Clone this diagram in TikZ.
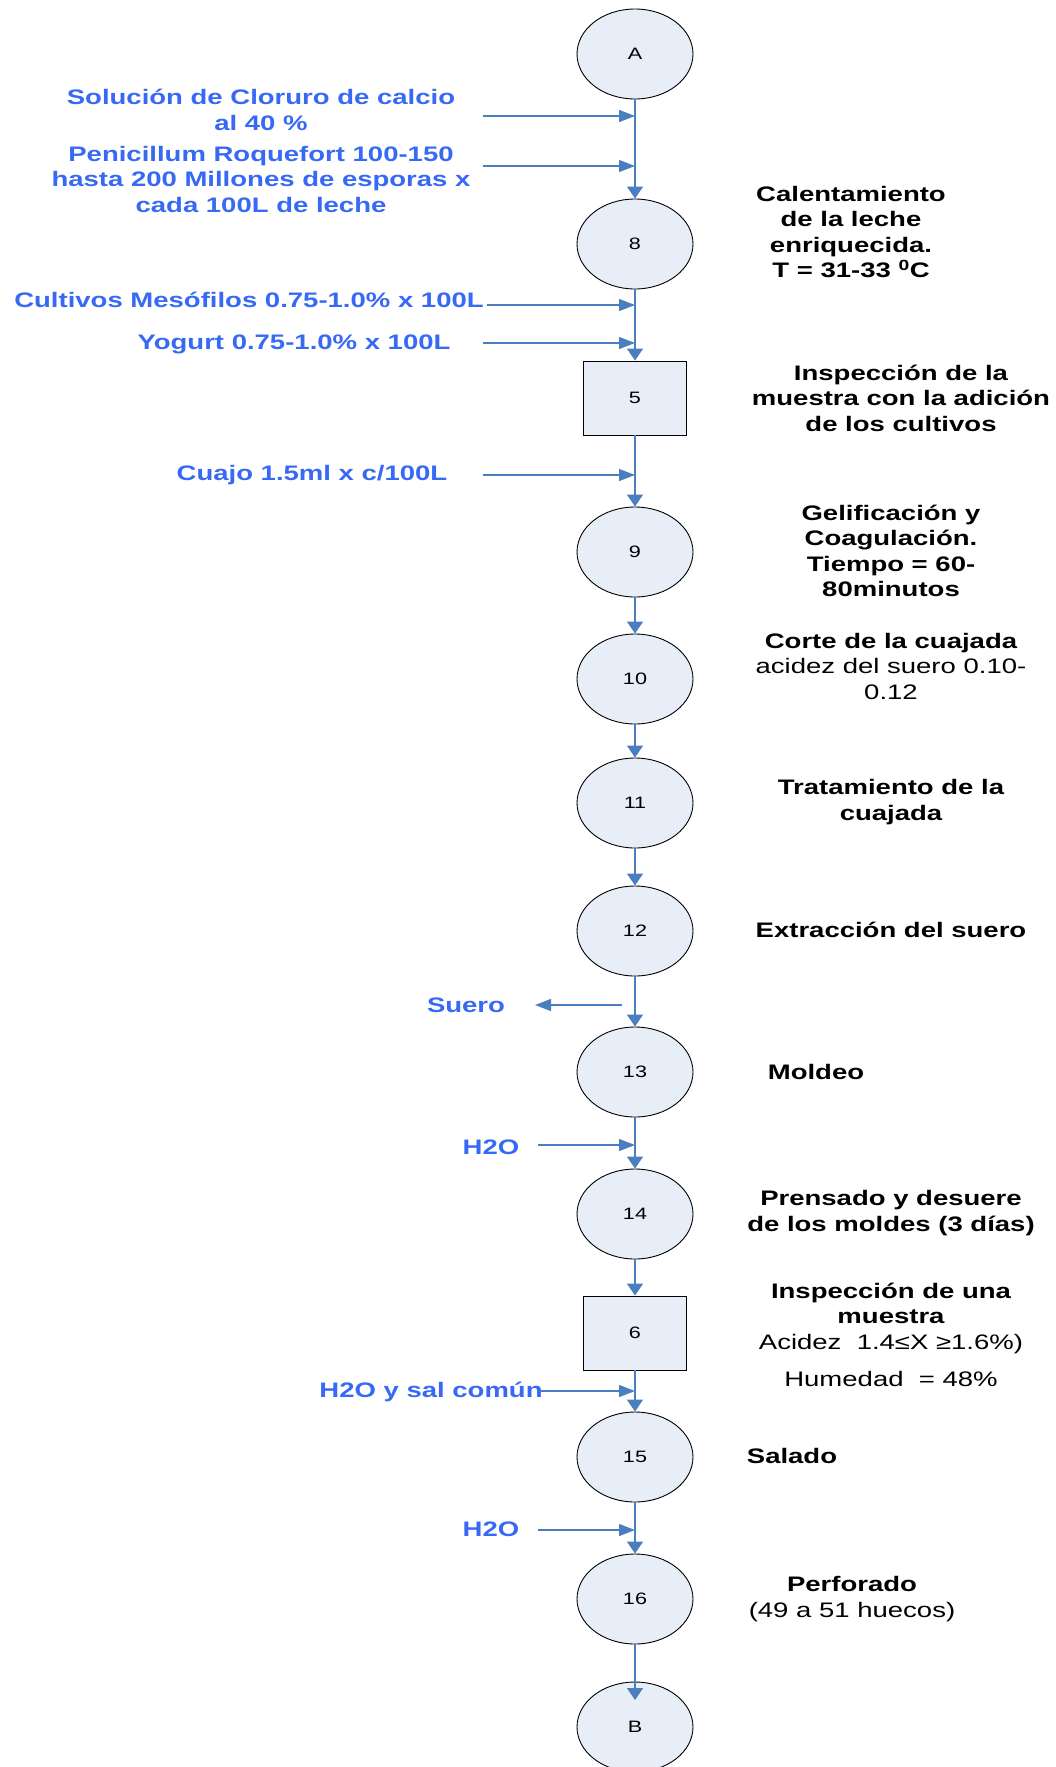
\documentclass[tikz,border=0pt]{standalone}
\usepackage{fontspec}
\setmainfont{Liberation Sans}[FakeStretch=1.31]
\usetikzlibrary{arrows.meta,shapes.geometric}
\definecolor{flowline}{RGB}{74,126,190}
\definecolor{inblue}{RGB}{55,105,245}
\definecolor{opfill}{RGB}{232,238,248}
\tikzset{
  op/.style={ellipse, draw=black, line width=0.9pt, fill=opfill,
    minimum width=116pt, minimum height=90pt, inner sep=0pt,
    font=\fontsize{16.5}{19}\selectfont},
  inspbox/.style={rectangle, draw=black, line width=0.9pt, fill=opfill,
    minimum width=103pt, minimum height=74pt, inner sep=0pt,
    font=\fontsize{16.5}{19}\selectfont},
  flow/.style={draw=flowline, line width=1.3pt, -{Triangle[length=12pt,width=16pt]}},
  feed/.style={draw=flowline, line width=1.3pt, -{Triangle[length=16pt,width=12pt]}},
  inlabel/.style={text=inblue, font=\fontsize{21}{25.5}\selectfont\bfseries,
    align=center, inner sep=0pt},
  steplabel/.style={text=black, font=\fontsize{21}{25.5}\selectfont\bfseries,
    align=center, inner sep=0pt},
}
\begin{document}
\begin{tikzpicture}[x=1pt, y=-1pt]
\useasboundingbox (0,0) rectangle (1056,1767);

% process chain
\node[op]      (A)   at (635,54)   {A};
\node[op]      (n8)  at (635,244)  {8};
\node[inspbox] (n5)  at (635,398)  {5};
\node[op]      (n9)  at (635,552)  {9};
\node[op]      (n10) at (635,679)  {10};
\node[op]      (n11) at (635,803)  {11};
\node[op]      (n12) at (635,931)  {12};
\node[op]      (n13) at (635,1072) {13};
\node[op]      (n14) at (635,1214) {14};
\node[inspbox] (n6)  at (635,1333) {6};
\node[op]      (n15) at (635,1457) {15};
\node[op]      (n16) at (635,1599) {16};
\node[op]      (B)   at (635,1727) {B};
\coordinate (Bin) at (635,1700);

\draw[flow] (A) -- (n8);
\draw[flow] (n8) -- (n5);
\draw[flow] (n5) -- (n9);
\draw[flow] (n9) -- (n10);
\draw[flow] (n10) -- (n11);
\draw[flow] (n11) -- (n12);
\draw[flow] (n12) -- (n13);
\draw[flow] (n13) -- (n14);
\draw[flow] (n14) -- (n6);
\draw[flow] (n6) -- (n15);
\draw[flow] (n15) -- (n16);
\draw[flow] (n16.south) -- (Bin);

% materials added or removed
\node[inlabel] (sol)  at (261,110)  {Solución de Cloruro de calcio\\al 40 \%};
\node[inlabel] (pen)  at (261,179)  {Penicillum Roquefort 100-150\\hasta 200 Millones de esporas x\\cada 100L de leche};
\node[inlabel] (cul)  at (249,300)  {Cultivos Mesófilos 0.75-1.0\% x 100L};
\node[inlabel] (yog)  at (294,344)  {Yogurt 0.75-1.0\% x 100L};
\node[inlabel] (cuajo) at (312,475) {Cuajo 1.5ml x c/100L};
\node[inlabel] (suero) at (466,1005) {Suero};
\node[inlabel] (agua1) at (491,1147) {H2O};
\node[inlabel] (sal)   at (431,1392) {H2O y sal común};
\node[inlabel] (agua2) at (491,1529) {H2O};

\coordinate (solS) at (483,116);  \coordinate (solE) at (635,116);
\coordinate (penS) at (483,166);  \coordinate (penE) at (635,166);
\coordinate (culS) at (487,305);  \coordinate (culE) at (635,305);
\coordinate (yogS) at (483,343);  \coordinate (yogE) at (635,343);
\coordinate (cuaS) at (483,475);  \coordinate (cuaE) at (635,475);
\coordinate (sueS) at (622,1005); \coordinate (sueE) at (535,1005);
\coordinate (ag1S) at (538,1145); \coordinate (ag1E) at (635,1145);
\coordinate (salS) at (541,1391); \coordinate (salE) at (635,1391);
\coordinate (ag2S) at (538,1530); \coordinate (ag2E) at (635,1530);

\draw[feed] (solS) -- (solE);
\draw[feed] (penS) -- (penE);
\draw[feed] (culS) -- (culE);
\draw[feed] (yogS) -- (yogE);
\draw[feed] (cuaS) -- (cuaE);
\draw[feed] (sueS) -- (sueE);
\draw[feed] (ag1S) -- (ag1E);
\draw[feed] (salS) -- (salE);
\draw[feed] (ag2S) -- (ag2E);

% operation descriptions
\node[steplabel] (t8)  at (851,232)  {Calentamiento\\de la leche\\enriquecida.\\T = 31-33 \textsuperscript{0}C};
\node[steplabel] (t5)  at (901,398)  {Inspección de la\\muestra con la adición\\de los cultivos};
\node[steplabel] (t9)  at (891,551)  {Gelificación y\\Coagulación.\\Tiempo = 60-\\80minutos};
\node[steplabel] (t10) at (891,666)  {Corte de la cuajada\\{\mdseries acidez del suero 0.10-}\\{\mdseries 0.12}};
\node[steplabel] (t11) at (891,802)  {Tratamiento de la\\cuajada};
\node[steplabel] (t12) at (891,930)  {Extracción del suero};
\node[steplabel] (t13) at (816,1072) {Moldeo};
\node[steplabel] (t14) at (891,1213) {Prensado y desuere\\de los moldes (3 días)};
\node[steplabel] (t6)  at (891,1335) {Inspección de una\\muestra\\{\mdseries Acidez\ \ 1.4≤X ≥1.6\%)}\\[12pt]{\mdseries Humedad\ \ = 48\%}};
\node[steplabel] (t15) at (792,1456) {Salado};
\node[steplabel] (t16) at (852,1599) {Perforado\\{\mdseries (49 a 51 huecos)}};
\end{tikzpicture}
\end{document}
